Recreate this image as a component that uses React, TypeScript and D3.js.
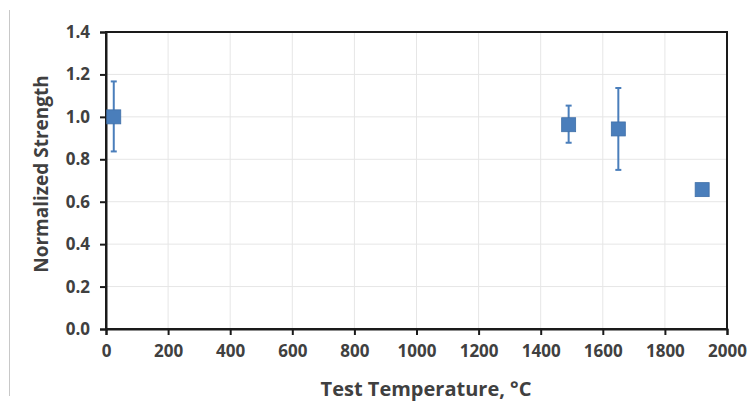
import React, { useEffect, useRef } from "react";
import * as d3 from "d3";

const temperatures = [25, 1490, 1650, 1920];
const strengths = [1.0, 0.963, 0.943, 0.657];
const errorsUp = [0.167, 0.09, 0.193, 0.025];
const errorsDown = [0.163, 0.085, 0.193, 0.025];
const xTicks = [0, 200, 400, 600, 800, 1000, 1200, 1400, 1600, 1800, 2000];
const yTicks = [0, 0.2, 0.4, 0.6, 0.8, 1.0, 1.2, 1.4];

const App = () => {
  const ref = useRef<SVGSVGElement>(null);

  useEffect(() => {
    const width = 752;
    const height = 401;
    const margin = { top: 32, right: 25, bottom: 72, left: 106 };
    const color = "#4a7ebb";
    const font = "'Open Sans', sans-serif";

    const svg = d3.select(ref.current);
    svg.selectAll("*").remove();

    const x = d3
      .scaleLinear()
      .domain([0, 2000])
      .range([margin.left, width - margin.right]);
    const y = d3
      .scaleLinear()
      .domain([0, 1.4])
      .range([height - margin.bottom, margin.top]);

    svg.append("rect").attr("width", width).attr("height", height).attr("fill", "#fff");

    // frame line at the far left
    svg
      .append("line")
      .attr("x1", 9.5)
      .attr("x2", 9.5)
      .attr("y1", 10)
      .attr("y2", 396)
      .attr("stroke", "#c8c8c8")
      .attr("stroke-width", 1);

    // grid
    svg
      .append("g")
      .selectAll("line")
      .data(xTicks)
      .join("line")
      .attr("x1", (d) => x(d))
      .attr("x2", (d) => x(d))
      .attr("y1", y(0))
      .attr("y2", y(1.4))
      .attr("stroke", "#e6e6e6")
      .attr("stroke-width", 1);
    svg
      .append("g")
      .selectAll("line")
      .data(yTicks)
      .join("line")
      .attr("x1", x(0))
      .attr("x2", x(2000))
      .attr("y1", (d) => y(d))
      .attr("y2", (d) => y(d))
      .attr("stroke", "#e6e6e6")
      .attr("stroke-width", 1);

    // frame
    svg
      .append("rect")
      .attr("x", x(0))
      .attr("y", y(1.4))
      .attr("width", x(2000) - x(0))
      .attr("height", y(0) - y(1.4))
      .attr("fill", "none")
      .attr("stroke", "#1a1a1a")
      .attr("stroke-width", 2);

    const xAxis = svg
      .append("g")
      .attr("transform", `translate(0,${y(0)})`)
      .call(
        d3
          .axisBottom(x)
          .tickValues(xTicks)
          .tickSize(6)
          .tickPadding(10)
          .tickFormat(d3.format("d"))
      );
    const yAxis = svg
      .append("g")
      .attr("transform", `translate(${x(0)},0)`)
      .call(
        d3
          .axisLeft(y)
          .tickValues(yTicks)
          .tickSize(6)
          .tickPadding(10)
          .tickFormat(d3.format(".1f"))
      );
    [xAxis, yAxis].forEach((g) => {
      g.select(".domain").attr("stroke", "#1a1a1a").attr("stroke-width", 2);
      g.selectAll(".tick line").attr("stroke", "#1a1a1a").attr("stroke-width", 2);
      g.selectAll(".tick text")
        .attr("fill", "#404040")
        .style("font-family", font)
        .style("font-size", "17px")
        .style("font-weight", "bold");
    });

    // error bars
    const bars = svg.append("g").attr("stroke", color).attr("stroke-width", 2);
    temperatures.forEach((t, i) => {
      const cx = x(t);
      const top = y(strengths[i] + errorsUp[i]);
      const bottom = y(strengths[i] - errorsDown[i]);
      bars.append("line").attr("x1", cx).attr("x2", cx).attr("y1", top).attr("y2", bottom);
      bars.append("line").attr("x1", cx - 3).attr("x2", cx + 3).attr("y1", top).attr("y2", top);
      bars.append("line").attr("x1", cx - 3).attr("x2", cx + 3).attr("y1", bottom).attr("y2", bottom);
    });

    // markers
    const size = 14;
    svg
      .append("g")
      .selectAll("rect")
      .data(temperatures)
      .join("rect")
      .attr("x", (d) => x(d) - size / 2)
      .attr("y", (d, i) => y(strengths[i]) - size / 2)
      .attr("width", size)
      .attr("height", size)
      .attr("fill", color)
      .attr("stroke", "#3f6fa8")
      .attr("stroke-width", 0.8);

    svg
      .append("text")
      .attr("x", 426)
      .attr("y", 396)
      .attr("text-anchor", "middle")
      .attr("fill", "#404040")
      .style("font-family", font)
      .style("font-size", "20px")
      .style("font-weight", "bold")
      .text("Test Temperature, °C");

    svg
      .append("text")
      .attr("transform", `translate(48,174) rotate(-90)`)
      .attr("text-anchor", "middle")
      .attr("fill", "#404040")
      .style("font-family", font)
      .style("font-size", "19px")
      .style("font-weight", "bold")
      .text("Normalized Strength");
  }, []);

  return (
    <svg
      ref={ref}
      width={752}
      height={401}
      style={{ position: "absolute", left: 0, top: 0, display: "block" }}
    />
  );
};

export default App;
